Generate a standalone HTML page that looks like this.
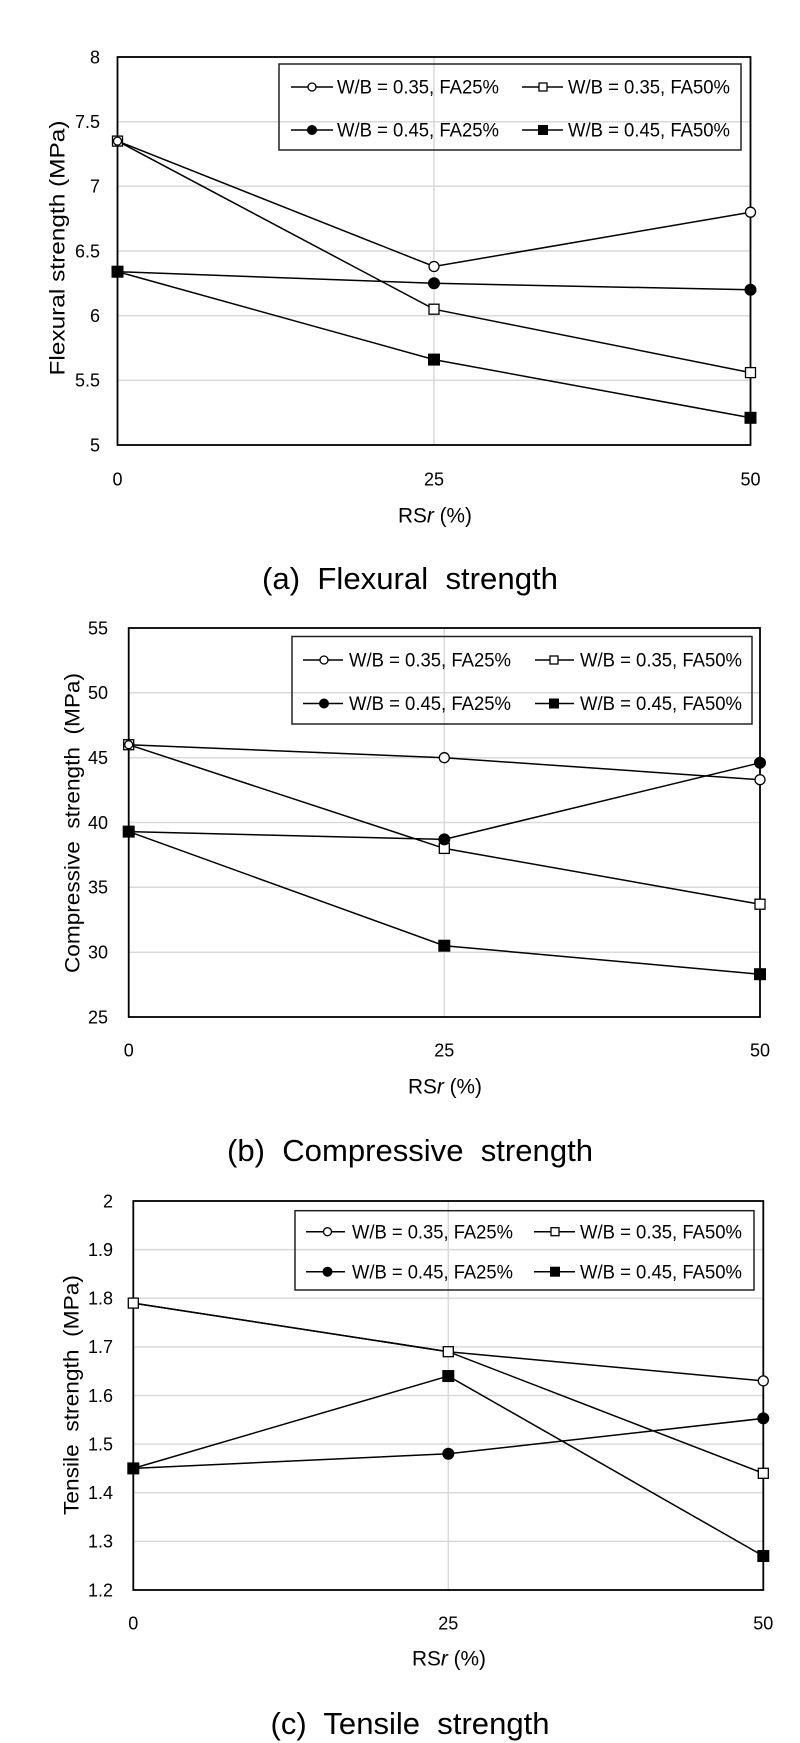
<!DOCTYPE html>
<html>
<head>
<meta charset="utf-8">
<style>
html,body{margin:0;padding:0;background:#fff;}
svg{display:block;}
text{font-family:"Liberation Sans",Arial,sans-serif;fill:#000;}
.tk{font-size:18px;}
.lg{font-size:19px;}
.ttl{font-size:21px;}
.cap{font-size:31px;white-space:pre;}
.grid{stroke:#d9d9d9;stroke-width:1.5;fill:none;}
.ser{stroke:#000;stroke-width:1.5;fill:none;}
.frame{stroke:#000;stroke-width:1.8;fill:none;}
.leg{stroke:#222;stroke-width:1.5;fill:none;}
.oc{fill:#fff;stroke:#000;stroke-width:1.3;}
.fc{fill:#000;stroke:#000;stroke-width:1;}
</style>
</head>
<body>
<svg width="800" height="1743" viewBox="0 0 800 1743" xmlns="http://www.w3.org/2000/svg">
<rect x="0" y="0" width="800" height="1743" fill="#fff"/>

<!-- ================= CHART 1 ================= -->
<g>
  <!-- gridlines -->
  <line class="grid" x1="117.5" y1="380.3" x2="750.5" y2="380.3"/>
  <line class="grid" x1="117.5" y1="315.7" x2="750.5" y2="315.7"/>
  <line class="grid" x1="117.5" y1="251" x2="750.5" y2="251"/>
  <line class="grid" x1="117.5" y1="186.3" x2="750.5" y2="186.3"/>
  <line class="grid" x1="117.5" y1="121.7" x2="750.5" y2="121.7"/>
  <line class="grid" x1="434" y1="57" x2="434" y2="445"/>
  <!-- legend -->
  <rect class="leg" x="279" y="64" width="462" height="86"/>
  <line class="ser" x1="291" y1="87" x2="333" y2="87"/>
  <circle class="oc" cx="312" cy="87" r="4"/>
  <text class="lg" x="337" y="87" dy="0.35em" textLength="162" lengthAdjust="spacingAndGlyphs">W/B = 0.35, FA25%</text>
  <line class="ser" x1="522" y1="87" x2="563" y2="87"/>
  <rect class="oc" x="539" y="83" width="8" height="8"/>
  <text class="lg" x="568" y="87" dy="0.35em" textLength="162" lengthAdjust="spacingAndGlyphs">W/B = 0.35, FA50%</text>
  <line class="ser" x1="291" y1="130" x2="333" y2="130"/>
  <circle class="fc" cx="312" cy="130" r="4.5"/>
  <text class="lg" x="337" y="130" dy="0.35em" textLength="162" lengthAdjust="spacingAndGlyphs">W/B = 0.45, FA25%</text>
  <line class="ser" x1="522" y1="130" x2="563" y2="130"/>
  <rect class="fc" x="538.5" y="125.5" width="9" height="9"/>
  <text class="lg" x="568" y="130" dy="0.35em" textLength="162" lengthAdjust="spacingAndGlyphs">W/B = 0.45, FA50%</text>
  <!-- series -->
  <polyline class="ser" points="117.5,141.1 434,266.5 750.5,212.2"/>
  <polyline class="ser" points="117.5,141.1 434,309.2 750.5,372.6"/>
  <polyline class="ser" points="117.5,271.7 434,283.3 750.5,289.8"/>
  <polyline class="ser" points="117.5,271.7 434,359.6 750.5,417.8"/>
  <!-- frame -->
  <rect class="frame" x="117.5" y="57" width="633" height="388"/>
  <!-- markers -->
  <circle class="oc" cx="434" cy="266.5" r="5"/>
  <circle class="oc" cx="750.5" cy="212.2" r="5"/>
  <rect class="oc" x="112.5" y="136.1" width="10" height="10"/>
  <circle class="oc" cx="117.5" cy="141.1" r="4"/>
  <rect class="oc" x="429" y="304.2" width="10" height="10"/>
  <rect class="oc" x="745.5" y="367.6" width="10" height="10"/>
  <circle class="fc" cx="434" cy="283.3" r="5.5"/>
  <circle class="fc" cx="750.5" cy="289.8" r="5.5"/>
  <rect class="fc" x="112" y="266.2" width="11" height="11"/>
  <rect class="fc" x="428.5" y="354.1" width="11" height="11"/>
  <rect class="fc" x="745" y="412.3" width="11" height="11"/>
  <!-- y ticks -->
  <g text-anchor="end">
    <text class="tk" x="100" y="445" dy="0.35em">5</text>
    <text class="tk" x="100" y="380.3" dy="0.35em">5.5</text>
    <text class="tk" x="100" y="315.7" dy="0.35em">6</text>
    <text class="tk" x="100" y="251" dy="0.35em">6.5</text>
    <text class="tk" x="100" y="186.3" dy="0.35em">7</text>
    <text class="tk" x="100" y="121.7" dy="0.35em">7.5</text>
    <text class="tk" x="100" y="57" dy="0.35em">8</text>
  </g>
  <!-- x ticks -->
  <g text-anchor="middle">
    <text class="tk" x="117.5" y="479" dy="0.35em">0</text>
    <text class="tk" x="434" y="479" dy="0.35em">25</text>
    <text class="tk" x="750.5" y="479" dy="0.35em">50</text>
    <text class="ttl" x="435" y="515" dy="0.35em" textLength="74" lengthAdjust="spacingAndGlyphs">RS<tspan font-style="italic">r</tspan> (%)</text>
  </g>
  <text class="ttl" text-anchor="middle" transform="translate(57,248) rotate(-90)" dy="0.35em" textLength="255" lengthAdjust="spacingAndGlyphs">Flexural strength (MPa)</text>
  <text class="cap" x="410" y="578" dy="0.35em" text-anchor="middle" textLength="296" lengthAdjust="spacingAndGlyphs">(a)  Flexural  strength</text>
</g>

<!-- ================= CHART 2 ================= -->
<g>
  <line class="grid" x1="128.7" y1="952.2" x2="760" y2="952.2"/>
  <line class="grid" x1="128.7" y1="887.3" x2="760" y2="887.3"/>
  <line class="grid" x1="128.7" y1="822.5" x2="760" y2="822.5"/>
  <line class="grid" x1="128.7" y1="757.7" x2="760" y2="757.7"/>
  <line class="grid" x1="128.7" y1="692.8" x2="760" y2="692.8"/>
  <line class="grid" x1="444.3" y1="628" x2="444.3" y2="1017"/>
  <!-- legend -->
  <rect class="leg" x="292" y="636.5" width="460" height="87.5"/>
  <line class="ser" x1="303" y1="660" x2="343" y2="660"/>
  <circle class="oc" cx="324" cy="660" r="4"/>
  <text class="lg" x="349" y="660" dy="0.35em" textLength="162" lengthAdjust="spacingAndGlyphs">W/B = 0.35, FA25%</text>
  <line class="ser" x1="535" y1="660" x2="574" y2="660"/>
  <rect class="oc" x="550" y="656" width="8" height="8"/>
  <text class="lg" x="580" y="660" dy="0.35em" textLength="162" lengthAdjust="spacingAndGlyphs">W/B = 0.35, FA50%</text>
  <line class="ser" x1="303" y1="703.5" x2="343" y2="703.5"/>
  <circle class="fc" cx="324" cy="703.5" r="4.5"/>
  <text class="lg" x="349" y="703.5" dy="0.35em" textLength="162" lengthAdjust="spacingAndGlyphs">W/B = 0.45, FA25%</text>
  <line class="ser" x1="535" y1="703.5" x2="574" y2="703.5"/>
  <rect class="fc" x="549.5" y="699" width="9" height="9"/>
  <text class="lg" x="580" y="703.5" dy="0.35em" textLength="162" lengthAdjust="spacingAndGlyphs">W/B = 0.45, FA50%</text>
  <!-- series -->
  <polyline class="ser" points="128.7,744.7 444.3,757.7 760,779.7"/>
  <polyline class="ser" points="128.7,831.6 444.3,839.4 760,762.8"/>
  <polyline class="ser" points="128.7,744.7 444.3,848.4 760,904.2"/>
  <polyline class="ser" points="128.7,831.6 444.3,945.7 760,974.2"/>
  <rect class="frame" x="128.7" y="628" width="631.3" height="389"/>
  <!-- markers -->
  <circle class="oc" cx="444.3" cy="757.7" r="5"/>
  <circle class="oc" cx="760" cy="779.7" r="5"/>
  <rect class="oc" x="123.7" y="739.7" width="10" height="10"/>
  <circle class="oc" cx="128.7" cy="744.7" r="4"/>
  <rect class="oc" x="439.3" y="843.4" width="10" height="10"/>
  <rect class="oc" x="755" y="899.2" width="10" height="10"/>
  <circle class="fc" cx="444.3" cy="839.4" r="5.5"/>
  <circle class="fc" cx="760" cy="762.8" r="5.5"/>
  <rect class="fc" x="123.2" y="826.1" width="11" height="11"/>
  <rect class="fc" x="438.8" y="940.2" width="11" height="11"/>
  <rect class="fc" x="754.5" y="968.7" width="11" height="11"/>
  <g text-anchor="end">
    <text class="tk" x="108" y="1017" dy="0.35em">25</text>
    <text class="tk" x="108" y="952.2" dy="0.35em">30</text>
    <text class="tk" x="108" y="887.3" dy="0.35em">35</text>
    <text class="tk" x="108" y="822.5" dy="0.35em">40</text>
    <text class="tk" x="108" y="757.7" dy="0.35em">45</text>
    <text class="tk" x="108" y="692.8" dy="0.35em">50</text>
    <text class="tk" x="108" y="628" dy="0.35em">55</text>
  </g>
  <g text-anchor="middle">
    <text class="tk" x="128.7" y="1050" dy="0.35em">0</text>
    <text class="tk" x="444.3" y="1050" dy="0.35em">25</text>
    <text class="tk" x="760" y="1050" dy="0.35em">50</text>
    <text class="ttl" x="445" y="1086" dy="0.35em" textLength="74" lengthAdjust="spacingAndGlyphs">RS<tspan font-style="italic">r</tspan> (%)</text>
  </g>
  <text class="ttl" text-anchor="middle" style="white-space:pre" transform="translate(72,823) rotate(-90)" dy="0.35em" textLength="300" lengthAdjust="spacingAndGlyphs">Compressive  strength  (MPa)</text>
  <text class="cap" x="410" y="1150" dy="0.35em" text-anchor="middle" textLength="366" lengthAdjust="spacingAndGlyphs">(b)  Compressive  strength</text>
</g>

<!-- ================= CHART 3 ================= -->
<g>
  <line class="grid" x1="133.3" y1="1541.4" x2="763.3" y2="1541.4"/>
  <line class="grid" x1="133.3" y1="1492.75" x2="763.3" y2="1492.75"/>
  <line class="grid" x1="133.3" y1="1444.1" x2="763.3" y2="1444.1"/>
  <line class="grid" x1="133.3" y1="1395.5" x2="763.3" y2="1395.5"/>
  <line class="grid" x1="133.3" y1="1346.9" x2="763.3" y2="1346.9"/>
  <line class="grid" x1="133.3" y1="1298.25" x2="763.3" y2="1298.25"/>
  <line class="grid" x1="133.3" y1="1249.6" x2="763.3" y2="1249.6"/>
  <line class="grid" x1="448.3" y1="1201" x2="448.3" y2="1590"/>
  <!-- legend -->
  <rect class="leg" x="295" y="1210.7" width="459" height="79.3"/>
  <line class="ser" x1="306" y1="1231.7" x2="345" y2="1231.7"/>
  <circle class="oc" cx="327.5" cy="1231.7" r="4"/>
  <text class="lg" x="352" y="1231.7" dy="0.35em" textLength="161" lengthAdjust="spacingAndGlyphs">W/B = 0.35, FA25%</text>
  <line class="ser" x1="534" y1="1231.7" x2="575" y2="1231.7"/>
  <rect class="oc" x="551" y="1227.7" width="8" height="8"/>
  <text class="lg" x="580" y="1231.7" dy="0.35em" textLength="162" lengthAdjust="spacingAndGlyphs">W/B = 0.35, FA50%</text>
  <line class="ser" x1="306" y1="1271.7" x2="345" y2="1271.7"/>
  <circle class="fc" cx="327.5" cy="1271.7" r="4.5"/>
  <text class="lg" x="352" y="1271.7" dy="0.35em" textLength="161" lengthAdjust="spacingAndGlyphs">W/B = 0.45, FA25%</text>
  <line class="ser" x1="534" y1="1271.7" x2="575" y2="1271.7"/>
  <rect class="fc" x="550.5" y="1267.2" width="9" height="9"/>
  <text class="lg" x="580" y="1271.7" dy="0.35em" textLength="162" lengthAdjust="spacingAndGlyphs">W/B = 0.45, FA50%</text>
  <!-- series -->
  <polyline class="ser" points="133.3,1303.1 448.3,1351.7 763.3,1380.9"/>
  <polyline class="ser" points="133.3,1303.1 448.3,1351.7 763.3,1473.3"/>
  <polyline class="ser" points="133.3,1468.4 448.3,1453.8 763.3,1418.4"/>
  <polyline class="ser" points="133.3,1468.4 448.3,1376.05 763.3,1556"/>
  <rect class="frame" x="133.3" y="1201" width="630" height="389"/>
  <!-- markers -->
  <circle class="oc" cx="763.3" cy="1380.9" r="5"/>
  <circle class="oc" cx="448.3" cy="1351.7" r="4"/>
  <rect class="oc" x="443.3" y="1346.7" width="10" height="10"/>
  <circle class="oc" cx="133.3" cy="1303.1" r="4"/>
  <rect class="oc" x="128.3" y="1298.1" width="10" height="10"/>
  <rect class="oc" x="758.3" y="1468.3" width="10" height="10"/>
  <circle class="fc" cx="448.3" cy="1453.8" r="5.5"/>
  <circle class="fc" cx="763.3" cy="1418.4" r="5.5"/>
  <rect class="fc" x="127.8" y="1462.9" width="11" height="11"/>
  <rect class="fc" x="442.8" y="1370.55" width="11" height="11"/>
  <rect class="fc" x="757.8" y="1550.5" width="11" height="11"/>
  <g text-anchor="end">
    <text class="tk" x="113" y="1590" dy="0.35em">1.2</text>
    <text class="tk" x="113" y="1541.4" dy="0.35em">1.3</text>
    <text class="tk" x="113" y="1492.75" dy="0.35em">1.4</text>
    <text class="tk" x="113" y="1444.1" dy="0.35em">1.5</text>
    <text class="tk" x="113" y="1395.5" dy="0.35em">1.6</text>
    <text class="tk" x="113" y="1346.9" dy="0.35em">1.7</text>
    <text class="tk" x="113" y="1298.25" dy="0.35em">1.8</text>
    <text class="tk" x="113" y="1249.6" dy="0.35em">1.9</text>
    <text class="tk" x="113" y="1201" dy="0.35em">2</text>
  </g>
  <g text-anchor="middle">
    <text class="tk" x="133.3" y="1623" dy="0.35em">0</text>
    <text class="tk" x="448.3" y="1623" dy="0.35em">25</text>
    <text class="tk" x="763.3" y="1623" dy="0.35em">50</text>
    <text class="ttl" x="449" y="1658" dy="0.35em" textLength="74" lengthAdjust="spacingAndGlyphs">RS<tspan font-style="italic">r</tspan> (%)</text>
  </g>
  <text class="ttl" text-anchor="middle" style="white-space:pre" transform="translate(71,1395) rotate(-90)" dy="0.35em" textLength="240" lengthAdjust="spacingAndGlyphs">Tensile  strength  (MPa)</text>
  <text class="cap" x="410" y="1723" dy="0.35em" text-anchor="middle" textLength="279" lengthAdjust="spacingAndGlyphs">(c)  Tensile  strength</text>
</g>
</svg>
</body>
</html>
